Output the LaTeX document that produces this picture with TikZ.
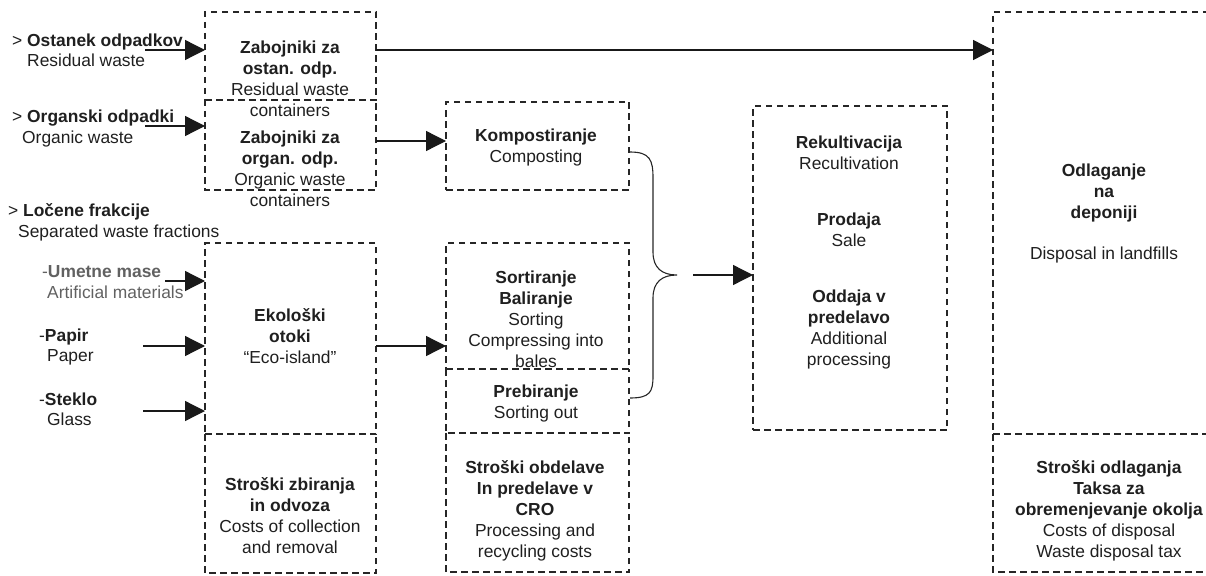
\documentclass[tikz,border=0pt]{standalone}
\usepackage{fontspec}
\setmainfont{Liberation Sans}
\usetikzlibrary{arrows.meta}
\tikzset{
  boxline/.style={draw=black!85, line width=1.1pt, dash pattern=on 6.5pt off 4.5pt},
  box/.style={rectangle, boxline, inner sep=0pt, outer sep=0pt},
  % a box stacked under another one: its top edge is the upper box's bottom edge
  subbox/.style={rectangle, draw=none, inner sep=0pt, outer sep=0pt},
  arr/.style={draw=black!90, line width=1.3pt, -{Triangle[length=20pt,width=20pt]}},
  txt/.style={font=\fontsize{17.4}{21}\selectfont, text=black!88, inner sep=0pt, align=center},
  lbl/.style={font=\fontsize{17.4}{21}\selectfont, text=black!88, inner sep=0pt, anchor=base west},
  grey/.style={text=black!62},
  bracepath/.style={draw=black!85, line width=1.1pt},
}
\newcommand\opentop[1]{\draw[boxline] (#1.north west) -- (#1.south west) -- (#1.south east) -- (#1.north east);}
\begin{document}
\begin{tikzpicture}[x=1pt,y=-1pt]
\clip (0,0) rectangle (1206,575);

% --- dashed boxes ---------------------------------------------------------
\node[box,    minimum width=171pt, minimum height=88pt]  (zabA)  at (290.5,56)    {};
\node[subbox, minimum width=171pt, minimum height=90pt]  (zabB)  at (290.5,145)   {};
\node[box,    minimum width=171pt, minimum height=191pt] (eco)   at (290.5,338.5) {};
\node[subbox, minimum width=171pt, minimum height=139pt] (costA) at (290.5,503.5) {};

\node[box,    minimum width=183pt, minimum height=88pt]  (komp)  at (537.5,146)   {};
\node[box,    minimum width=183pt, minimum height=126pt] (sort)  at (537.5,306)   {};
\node[subbox, minimum width=183pt, minimum height=64pt]  (preb)  at (537.5,401)   {};
\node[subbox, minimum width=183pt, minimum height=139pt] (costB) at (537.5,502.5) {};

\node[box,    minimum width=194pt, minimum height=324pt] (rek)   at (850,268)     {};

\node[box,    minimum width=227pt, minimum height=422pt] (odl)   at (1106.5,223)  {};
\node[subbox, minimum width=227pt, minimum height=138pt] (costC) at (1106.5,503)  {};

\opentop{zabB}
\opentop{costA}
\opentop{preb}
\opentop{costB}
\opentop{costC}

% --- arrow tails ----------------------------------------------------------
\coordinate (cOst) at (145,50);
\coordinate (cOrg) at (145,126);
\coordinate (cUme) at (165,281);
\coordinate (cPap) at (143,346);
\coordinate (cSte) at (143,411);
\coordinate (cKom) at (0,141);

% --- connectors -----------------------------------------------------------
\draw[arr] (cOst) -- (cOst -| zabA.west);
\draw[arr] (zabA.east |- cOst) -- (cOst -| odl.west);
\draw[arr] (cOrg) -- (cOrg -| zabB.west);
\draw[arr] (zabB.east |- cKom) -- (cKom -| komp.west);
\draw[arr] (cUme) -- (cUme -| eco.west);
\draw[arr] (cPap) -- (cPap -| eco.west);
\draw[arr] (cSte) -- (cSte -| eco.west);
\draw[arr] (eco.east |- cPap) -- (cPap -| sort.west);

% --- curly brace joining the treatment boxes ------------------------------
\coordinate (bTop) at (630,152);
\coordinate (bTip) at (677,275);
\coordinate (bBot) at (630,398);
\draw[bracepath] (bTop) .. controls (650,152) and (653,160) .. (653,178)
  -- (653,252) .. controls (653,268) and (662,275) .. (bTip)
  .. controls (662,275) and (653,282) .. (653,298)
  -- (653,376) .. controls (653,392) and (650,398) .. (bBot);
\draw[arr] ([xshift=16pt]bTip) -- (bTip -| rek.west);

% --- left-hand labels -----------------------------------------------------
\node[lbl] (ost1) at (12,47)  {> \textbf{Ostanek odpadkov}};
\node[lbl] (ost2) at (27,67)  {Residual waste};
\node[lbl] (org1) at (12,123) {> \textbf{Organski odpadki}};
\node[lbl] (org2) at (22,143) {Organic waste};
\node[lbl] (loc1) at (8,216)  {> \textbf{Ločene frakcije}};
\node[lbl] (loc2) at (18,237) {Separated waste fractions};
\node[lbl, grey] (ume1) at (42,277) {-\textbf{Umetne mase}};
\node[lbl, grey] (ume2) at (47,298) {Artificial materials};
\node[lbl] (pap1) at (39,341) {-\textbf{Papir}};
\node[lbl] (pap2) at (47,361) {Paper};
\node[lbl] (ste1) at (39,405) {-\textbf{Steklo}};
\node[lbl] (ste2) at (47,425) {Glass};

% --- box texts ------------------------------------------------------------
\node[txt] (tzabA) at (290,78.6)  {\textbf{Zabojniki za}\\\textbf{ostan. odp.}\\Residual waste\\containers};
\node[txt] (tzabB) at (290,168.6) {\textbf{Zabojniki za}\\\textbf{organ. odp.}\\Organic waste\\containers};
\node[txt] (teco)  at (290,336.1) {\textbf{Ekološki}\\\textbf{otoki}\\“Eco-island”};
\node[txt] (tcostA) at (290,515.6) {\textbf{Stroški zbiranja}\\\textbf{in odvoza}\\Costs of collection\\and removal};

\node[txt] (tkomp) at (536,147.1) {\textbf{Kompostiranje}\\Composting};
\node[txt] (tsort) at (536,319.6) {\textbf{Sortiranje}\\\textbf{Baliranje}\\Sorting\\Compressing into\\bales};
\node[txt] (tpreb) at (536,403.1) {\textbf{Prebiranje}\\Sorting out};
\node[txt] (tcostB) at (535,510.6) {\textbf{Stroški obdelave}\\\textbf{In predelave v}\\\textbf{CRO}\\Processing and\\recycling costs};

\node[txt] (trek) at (849,252.1) {\textbf{Rekultivacija}\\Recultivation\\[35pt]\textbf{Prodaja}\\Sale\\[35pt]\textbf{Oddaja v}\\\textbf{predelavo}\\Additional\\processing};

\node[txt] (todl) at (1104,213.1) {\textbf{Odlaganje}\\\textbf{na}\\\textbf{deponiji}\\[20pt]Disposal in landfills};
\node[txt] (tcostC) at (1109,510.6) {\textbf{Stroški odlaganja}\\\textbf{Taksa za}\\\textbf{obremenjevanje okolja}\\Costs of disposal\\Waste disposal tax};
\end{tikzpicture}
\end{document}
